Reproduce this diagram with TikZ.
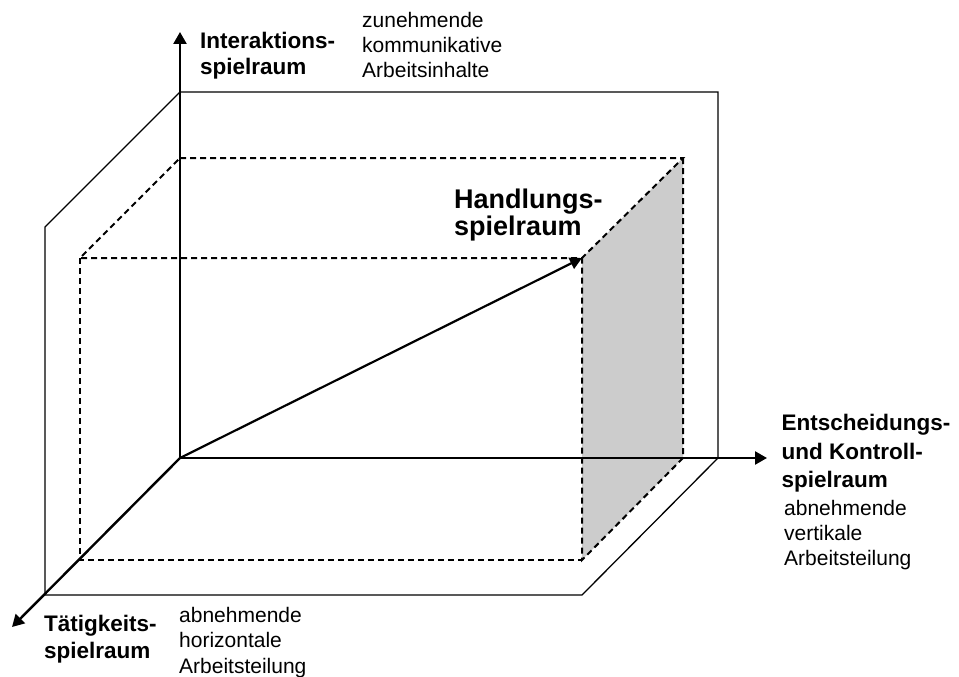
\documentclass[tikz,border=0pt]{standalone}
\usepackage{fontspec}
\setmainfont{Liberation Sans}
\usetikzlibrary{arrows.meta}

\begin{document}
\begin{tikzpicture}[x=1pt,y=-1pt,
  axis/.style={line width=2.4pt,-{Triangle[length=12pt,width=13pt]}},
  vector/.style={line width=2.2pt,-{Triangle[length=12pt,width=12pt]}},
  frame/.style={line width=1.3pt,line join=miter},
  hidden/.style={line width=2pt,dash pattern=on 6pt off 4pt},
  face/.style={fill=black!20,draw=none},
  axislabel/.style={anchor=north west,inner sep=0pt,align=left,
    font=\fontsize{22.5}{26}\selectfont\bfseries},
  note/.style={anchor=north west,inner sep=0pt,align=left,
    font=\fontsize{21}{25}\selectfont},
  title/.style={anchor=north west,inner sep=0pt,align=left,
    font=\fontsize{27}{27}\selectfont\bfseries}]
  \useasboundingbox (0,0) rectangle (959,677);

  % axes origin and tips
  \coordinate (O)  at (180,458);
  \coordinate (Yt) at (180,32);
  \coordinate (Xt) at (767,458);
  \coordinate (Zt) at (12,627);

  % outer solid frame
  \coordinate (F1) at (180,92);
  \coordinate (F2) at (718,92);
  \coordinate (F3) at (718,458);
  \coordinate (F4) at (582,595);
  \coordinate (F5) at (45,595);
  \coordinate (F6) at (45,227);

  % dashed box corners
  \coordinate (BTL) at (180,158);
  \coordinate (BTR) at (683,158);
  \coordinate (BBR) at (683,458);
  \coordinate (FTL) at (80,258);
  \coordinate (FTR) at (582,258);
  \coordinate (FBL) at (80,560);
  \coordinate (FBR) at (582,560);

  % shaded side face
  \fill[face] (FTR) -- (BTR) -- (BBR) -- (FBR) -- cycle;

  % dashed box edges
  \draw[hidden] (BTL) -- (BTR) -- (FTR) -- (FTL) -- cycle;
  \draw[hidden] (BTR) -- (BBR) -- (FBR) -- (FTR);
  \draw[hidden] (FTL) -- (FBL) -- (FBR);

  % outer frame
  \draw[frame] (F1) -- (F2) -- (F3) -- (F4) -- (F5) -- (F6) -- cycle;

  % axes
  \draw[axis] (O) -- (Yt);
  \draw[axis] (O) -- (Xt);
  \draw[axis] (O) -- (Zt);

  % resulting vector
  \draw[vector] (O) -- (FTR);

  % labels
  \node[axislabel] (ly) at (200,31.5) {Interaktions-\\spielraum};
  \node[note] (ny) at (362,12) {zunehmende\\kommunikative\\Arbeitsinhalte};
  \node[title] (lh) at (454,188.5) {Handlungs-\\spielraum};
  \node[axislabel,font=\fontsize{22.5}{28.5}\selectfont\bfseries] (lx) at (781.5,414)
    {Entscheidungs-\\und Kontroll-\\spielraum};
  \node[note,font=\fontsize{21}{25}\selectfont] (nx) at (784,500)
    {abnehmende\\vertikale\\Arbeitsteilung};
  \node[axislabel,font=\fontsize{22.5}{27}\selectfont\bfseries] (lz) at (44,615)
    {Tätigkeits-\\spielraum};
  \node[note,font=\fontsize{21}{25.5}\selectfont] (nz) at (179,607)
    {abnehmende\\horizontale\\Arbeitsteilung};
\end{tikzpicture}
\end{document}
